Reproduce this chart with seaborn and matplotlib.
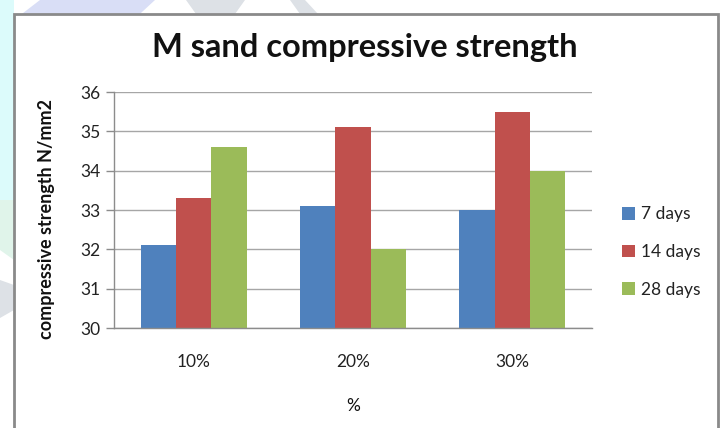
import matplotlib
matplotlib.use("Agg")
import matplotlib.pyplot as plt
from matplotlib.patches import Polygon, Rectangle
import pandas as pd
import seaborn as sns

# Data
categories = ["10%", "20%", "30%"]
series_names = ["7 days", "14 days", "28 days"]
days_7 = [32.1, 33.1, 33.0]
days_14 = [33.3, 35.1, 35.5]
days_28 = [34.6, 32.0, 34.0]
y_ticks = [30, 31, 32, 33, 34, 35, 36]

colors = ["#4F81BD", "#C0504D", "#9BBB59"]

rows = []
for name, vals in zip(series_names, [days_7, days_14, days_28]):
    for cat, v in zip(categories, vals):
        rows.append({"pct": cat, "series": name, "value": v})
df = pd.DataFrame(rows)

sns.set_style("white")
plt.rcParams["font.family"] = ["Lato", "DejaVu Sans"]

W, H = 722, 428
fig = plt.figure(figsize=(W / 100, H / 100), dpi=100)
fig.patch.set_facecolor("white")


def px(x, y):
    return (x / W, 1 - y / H)


# faint background decoration behind the chart frame
shapes = [
    ([(0, 0), (14, 0), (14, 200), (0, 200)], "#dcfbfb"),
    ([(40, 0), (155, 0), (90, 60), (14, 60), (14, 20)], "#d9def6"),
    ([(0, 200), (14, 200), (14, 260), (0, 250)], "#e0f4ea"),
    ([(0, 280), (14, 285), (14, 310), (0, 318)], "#dde1e6"),
    ([(186, 0), (245, 0), (235, 14), (196, 14)], "#dde1e6"),
    ([(290, 0), (305, 0), (318, 14), (300, 14)], "#dde1e6"),
]
for pts, c in shapes:
    fig.add_artist(Polygon([px(*p) for p in pts], closed=True,
                           transform=fig.transFigure, facecolor=c,
                           edgecolor="none", zorder=0))

# chart frame
x0, y0 = px(14, 14)
x1, y1 = px(718, 432)
fig.add_artist(Rectangle((x0, y1), x1 - x0, y0 - y1, transform=fig.transFigure,
                         facecolor="white", edgecolor="#8a8a8a", linewidth=2,
                         zorder=1))

# plot area
left, right, top, bottom = 114, 592, 92, 328
ax = fig.add_axes([left / W, 1 - bottom / H, (right - left) / W, (bottom - top) / H])
ax.set_zorder(2)
ax.patch.set_alpha(0)

sns.barplot(data=df, x="pct", y="value", hue="series", order=categories,
            hue_order=series_names, palette=colors, saturation=1,
            width=2 / 3, gap=0, ax=ax, legend=True, linewidth=0)

ax.set_ylim(30, 36)
ax.set_xlim(-0.5, 2.5)
ax.set_yticks(y_ticks)
ax.set_yticklabels([str(t) for t in y_ticks])
ax.yaxis.grid(True, color="#a6a6a6", linewidth=1)
ax.set_axisbelow(True)

for s in ["top", "right"]:
    ax.spines[s].set_visible(False)
for s in ["left", "bottom"]:
    ax.spines[s].set_color("#8c8c8c")
    ax.spines[s].set_linewidth(1)

ax.tick_params(axis="y", which="major", direction="out", length=6, width=1,
               color="#8c8c8c", labelsize=12.5, labelcolor="#222222", pad=4, left=True)
ax.tick_params(axis="x", length=0, labelsize=12.5, labelcolor="#222222", pad=19)

ax.set_xlabel("%", fontsize=12.5, color="#111111", labelpad=20)
ax.set_ylabel("compressive strength N/mm2", fontsize=13, fontweight="bold",
              color="#111111")
ax.yaxis.set_label_coords((55 - left) / (right - left), (bottom - 219) / (bottom - top))

fig.text(365 / W, 1 - 48 / H, "M sand compressive strength", ha="center",
         va="center", fontsize=23.5, fontweight="bold", color="#111111")

leg = ax.legend(loc="center left", bbox_to_anchor=(615 / W, 1 - 252 / H),
                bbox_transform=fig.transFigure, frameon=False,
                fontsize=12.5, handlelength=0.75, handleheight=0.75,
                handletextpad=0.35, labelspacing=1.25, borderaxespad=0)
for t in leg.get_texts():
    t.set_color("#222222")

fig.savefig("out.png", dpi=100)
